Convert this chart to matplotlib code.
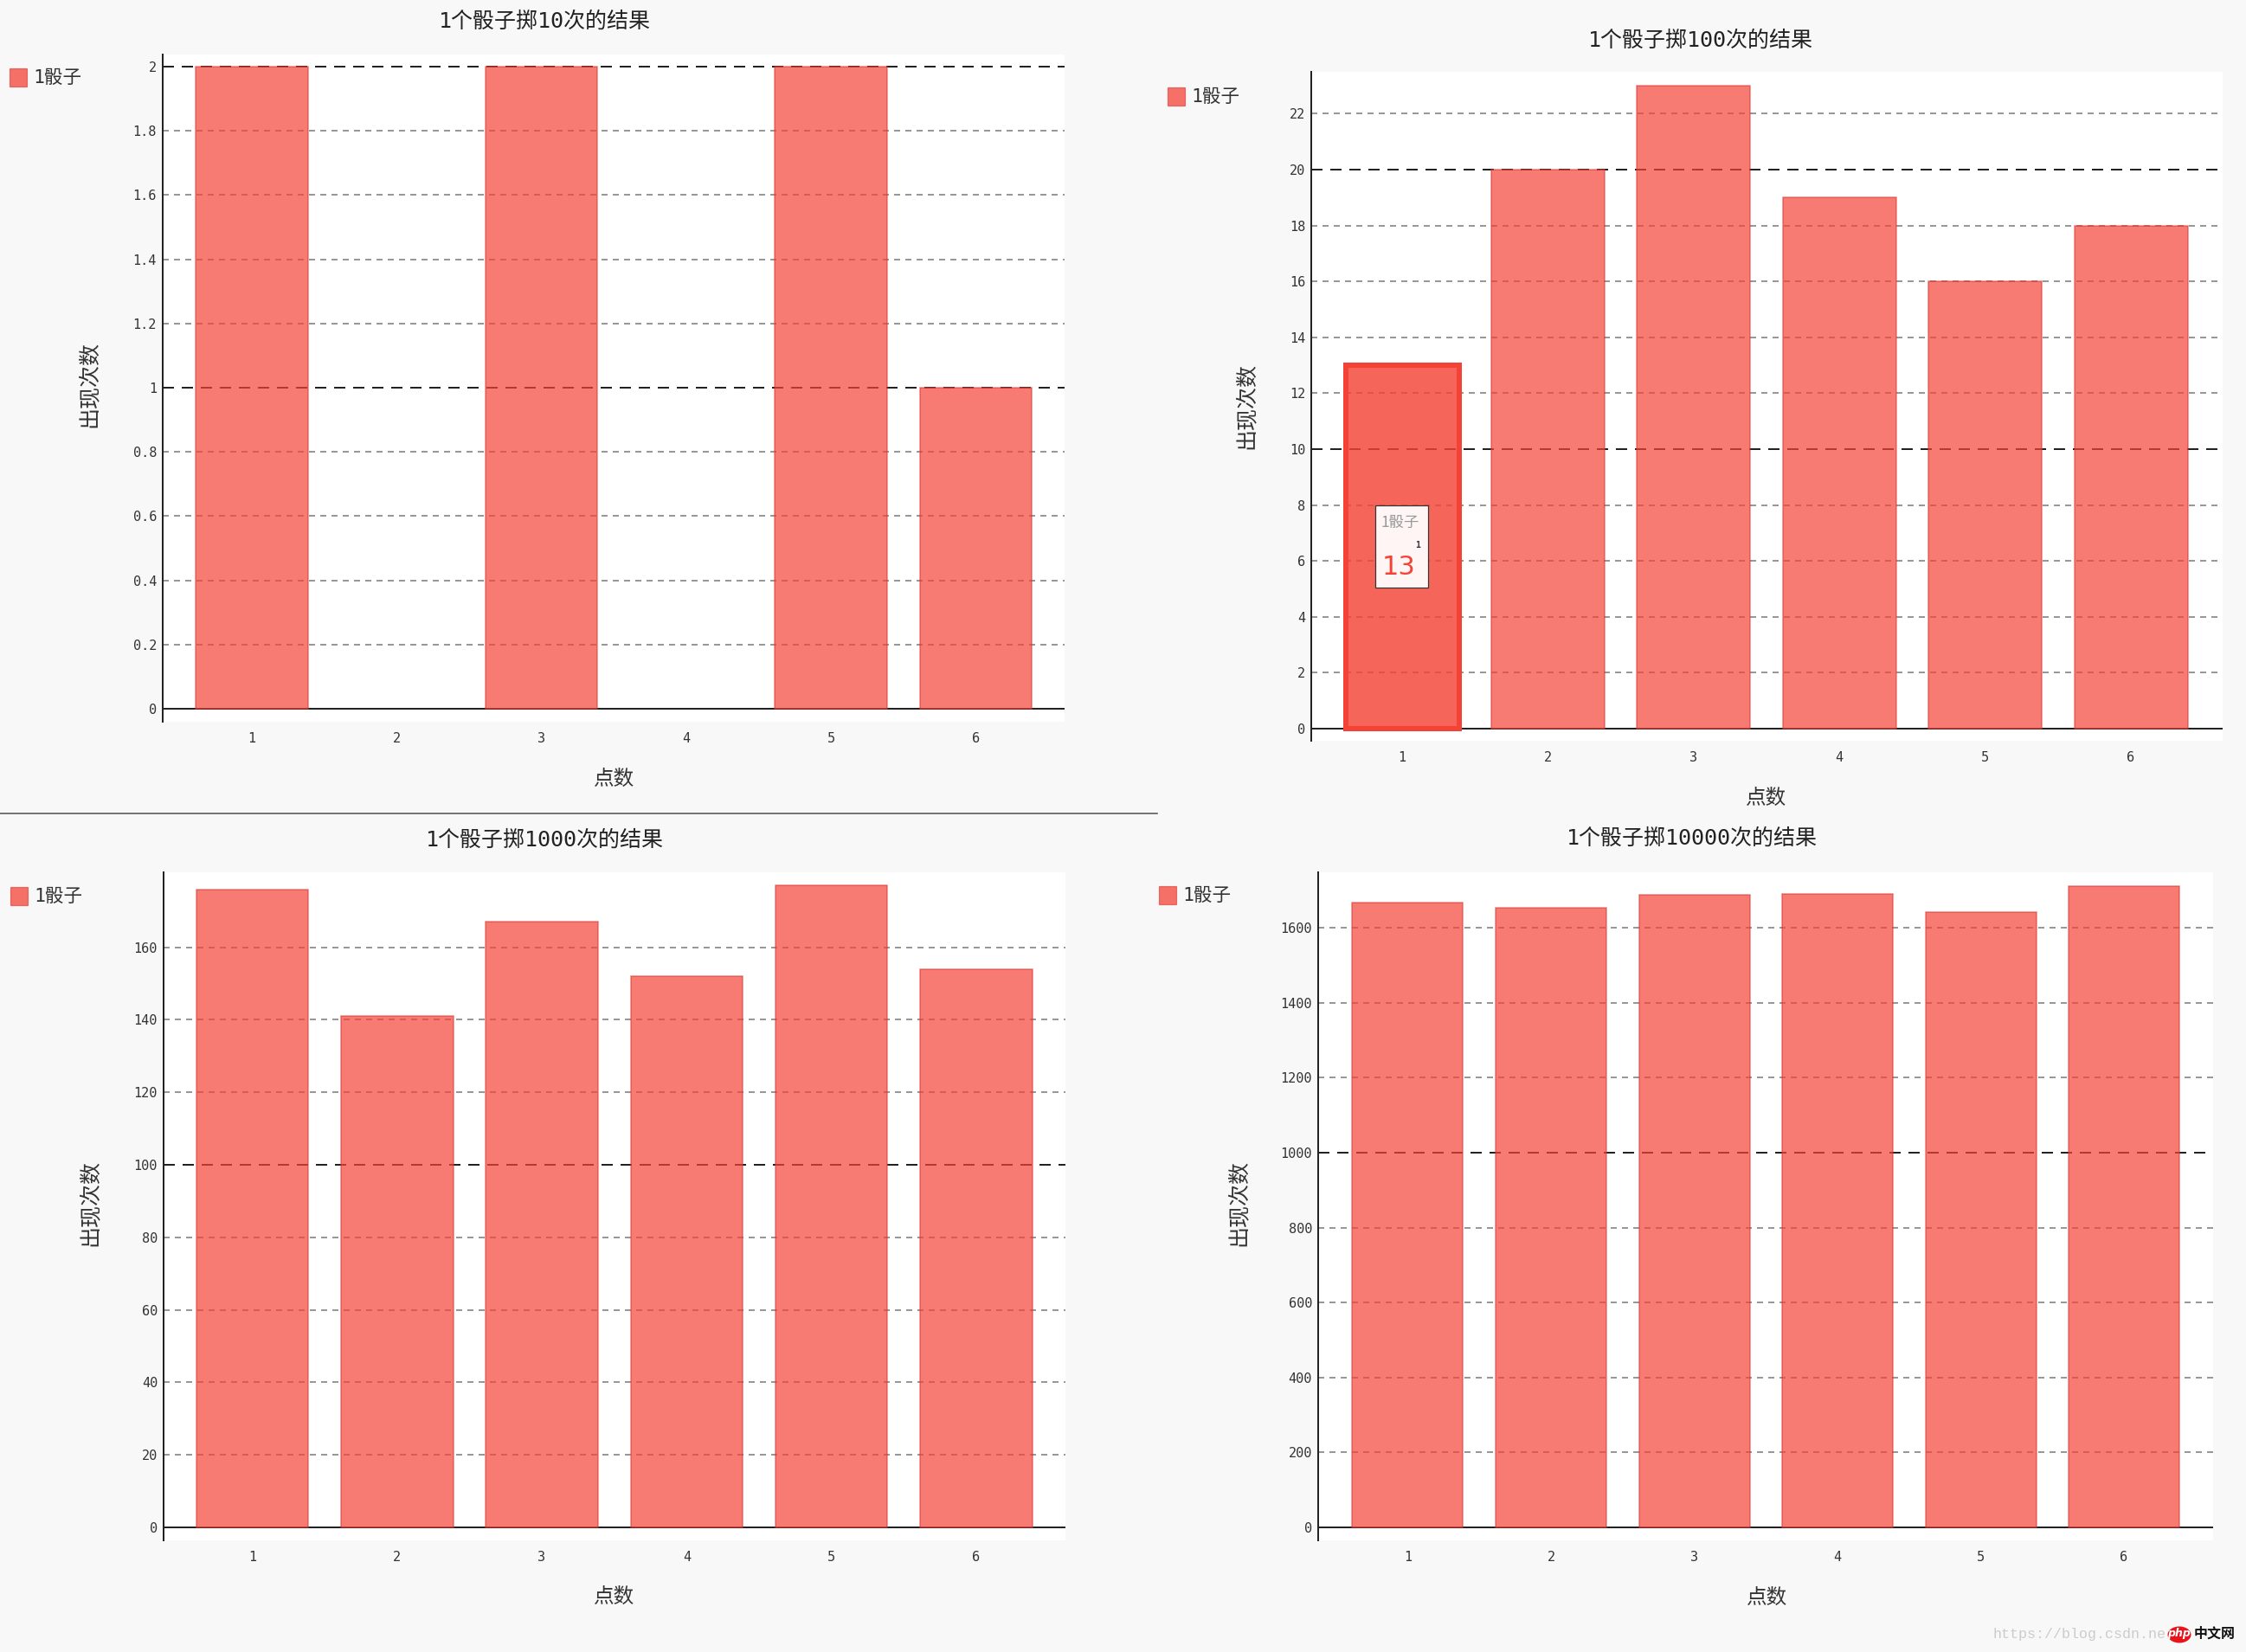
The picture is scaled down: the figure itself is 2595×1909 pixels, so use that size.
#!/usr/bin/env python3
"""Cuatro paneles: resultados de tirar 1 dado 10, 100, 1000 y 10000 veces."""
import matplotlib

matplotlib.use("Agg")
import matplotlib.pyplot as plt
from matplotlib.lines import Line2D
from matplotlib.patches import Ellipse, Rectangle
from matplotlib.transforms import Affine2D

W, H = 2595, 1909
BG = "#f8f8f8"
RED = "#f44336"
SERIES_NAME = "1骰子"
X_LABEL = "点数"
Y_LABEL = "出现次数"

points = [1, 2, 3, 4, 5, 6]

counts_10 = [2, 0, 2, 0, 2, 1]
counts_100 = [13, 20, 23, 19, 16, 18]
counts_1000 = [176, 141, 167, 152, 177, 154]
counts_10000 = [1667, 1653, 1688, 1691, 1642, 1712]

ticks_10 = [0, 0.2, 0.4, 0.6, 0.8, 1, 1.2, 1.4, 1.6, 1.8, 2]
ticks_100 = [0, 2, 4, 6, 8, 10, 12, 14, 16, 18, 20, 22]
ticks_1000 = [0, 20, 40, 60, 80, 100, 120, 140, 160]
ticks_10000 = [0, 200, 400, 600, 800, 1000, 1200, 1400, 1600]

major_10 = [1, 2]
major_100 = [10, 20]
major_1000 = [100]
major_10000 = [1000]

titles = [
    "1个骰子掷10次的结果",
    "1个骰子掷100次的结果",
    "1个骰子掷1000次的结果",
    "1个骰子掷10000次的结果",
]

MONO_CJK = ["DejaVu Sans Mono", "Noto Sans CJK SC"]

plt.rcParams["font.family"] = MONO_CJK
plt.rcParams["lines.scale_dashes"] = False

fig = plt.figure(figsize=(W / 100, H / 100), dpi=100, facecolor=BG)
# todo lo decorativo se coloca en pixeles de la imagen, con origen arriba a la izquierda
px = Affine2D().scale(1 / W, -1 / H).translate(0, 1) + fig.transFigure


def pt(n):
    return n * 0.72


def panel(values, ticks, majors, title, box, y_ref, bars, deco):
    left, top, right, bottom = box
    ax = fig.add_axes(
        [left / W, 1 - bottom / H, (right - left) / W, (bottom - top) / H],
        facecolor="white",
    )
    # eje x: centro de la barra 1 y distancia entre barras, en pixeles
    c1, pitch, bar_px = bars
    ax.set_xlim(1 + (left - c1) / pitch, 1 + (right - c1) / pitch)
    # eje y: pixel del cero y pixeles por unidad
    y0, unit = y_ref
    ax.set_ylim((y0 - bottom) / unit, (y0 - top) / unit)

    for t in ticks[1:]:
        if t in majors:
            ax.axhline(t, color="#222222", lw=pt(2), dashes=(pt(13), pt(9)), zorder=1)
        else:
            ax.axhline(t, color="#777777", lw=pt(1.5), dashes=(pt(7), pt(6)), zorder=1)

    rects = ax.bar(
        points, values, width=bar_px / pitch,
        facecolor=(0.957, 0.263, 0.212, 0.7),
        edgecolor=(0.85, 0.2, 0.17, 0.6), linewidth=pt(1.5), zorder=2,
    )
    # las barras con valor 0 no dejan rastro en el eje
    for rect, v in zip(rects, values):
        if v == 0:
            rect.set_linewidth(0)
    ax.axhline(0, color="#222222", lw=pt(2), zorder=1.5)

    for side in ("top", "right", "bottom"):
        ax.spines[side].set_visible(False)
    ax.spines["left"].set_linewidth(pt(2))
    ax.spines["left"].set_color("#222222")

    ax.set_xticks(points)
    ax.set_yticks(ticks)
    ax.set_yticklabels([f"{t:g}" for t in ticks])
    ax.tick_params(axis="x", length=0, pad=pt(12), labelsize=11, labelcolor="#333333")
    ax.tick_params(axis="y", length=0, pad=pt(7), labelsize=11, labelcolor="#333333")

    fig.text(*deco["title"], title, transform=px, ha="center", va="center",
             fontsize=18, color="#222222")
    fig.text(*deco["xlabel"], X_LABEL, transform=px, ha="center", va="center",
             fontsize=17, color="#333333")
    fig.text(*deco["ylabel"], Y_LABEL, transform=px, ha="center", va="center",
             fontsize=18, color="#333333", rotation=90)

    sx, sy = deco["legend"]
    fig.add_artist(Rectangle((sx, sy), 20, 21, transform=px, facecolor=(0.957, 0.263, 0.212, 0.75),
                             edgecolor=(0.85, 0.2, 0.17, 0.6), linewidth=pt(1.2)))
    fig.text(sx + 27, sy + 11, SERIES_NAME, transform=px, ha="left", va="center",
             fontsize=15.5, color="#333333")
    return ax, rects


panel(counts_10, ticks_10, major_10, titles[0],
      (188, 63, 1230, 834), (819, 371), (291, 167.25, 129.5),
      dict(title=(629, 25), xlabel=(710, 900), ylabel=(103, 444), legend=(11, 79)))

ax2, rects2 = panel(counts_100, ticks_100, major_100, titles[1],
                    (1515, 83, 2568, 856), (842, 32.3), (1620, 168.4, 131),
                    dict(title=(1965, 47), xlabel=(2041, 922), ylabel=(1440, 469), legend=(1349, 101)))

panel(counts_1000, ticks_1000, major_1000, titles[2],
      (189, 1008, 1231, 1780), (1765, 4.19), (291.5, 167.25, 129.5),
      dict(title=(629, 971), xlabel=(710, 1845), ylabel=(104, 1390), legend=(12, 1025)))

panel(counts_10000, ticks_10000, major_10000, titles[3],
      (1523, 1008, 2557, 1780), (1765, 0.433), (1626.5, 165.5, 128),
      dict(title=(1955, 969), xlabel=(2042, 1846), ylabel=(1431, 1390), legend=(1339, 1024)))

# barra resaltada con su tooltip (panel de 100 tiradas)
rects2[0].set_facecolor((0.957, 0.263, 0.212, 0.82))
rects2[0].set_edgecolor(RED)
rects2[0].set_linewidth(pt(6))
rects2[0].set_clip_on(False)

fig.add_artist(Rectangle((1589, 584), 61, 95, transform=px, facecolor=(1, 1, 1, 0.94),
                         edgecolor="#333333", linewidth=pt(1.2)))
fig.text(1618, 604, SERIES_NAME, transform=px, ha="center", va="center",
         fontsize=12.5, color="#999999",
         family=["Noto Sans CJK SC", "DejaVu Sans"])
fig.text(1638, 630, str(points[0]), transform=px, ha="center", va="center",
         fontsize=7, color="#333333", fontweight="bold")
fig.text(1597, 655, str(counts_100[0]), transform=px, ha="left", va="center",
         fontsize=22, color=RED, family=["DejaVu Sans"])

# linea separadora bajo el primer panel
fig.add_artist(Line2D([0, 1337], [940, 940], transform=px, color="#555555", lw=pt(1.6)))

# marca de agua
fig.text(2303, 1888, "https://blog.csdn.ne", transform=px, ha="left", va="center",
         fontsize=12, color="#cccccc", family=["Liberation Mono"])
fig.add_artist(Ellipse((2518, 1889), 27, 19, transform=px, facecolor="#e8141c", edgecolor="none"))
fig.text(2518, 1888, "php", transform=px, ha="center", va="center",
         fontsize=9, color="white", fontweight="bold", style="italic", family=["DejaVu Sans"])
fig.text(2559, 1888, "中文网", transform=px, ha="center", va="center",
         fontsize=11.5, color="#111111", fontweight="bold", family=["Noto Sans CJK SC"])

fig.savefig("out.png", dpi=100, facecolor=BG)
plt.close(fig)
